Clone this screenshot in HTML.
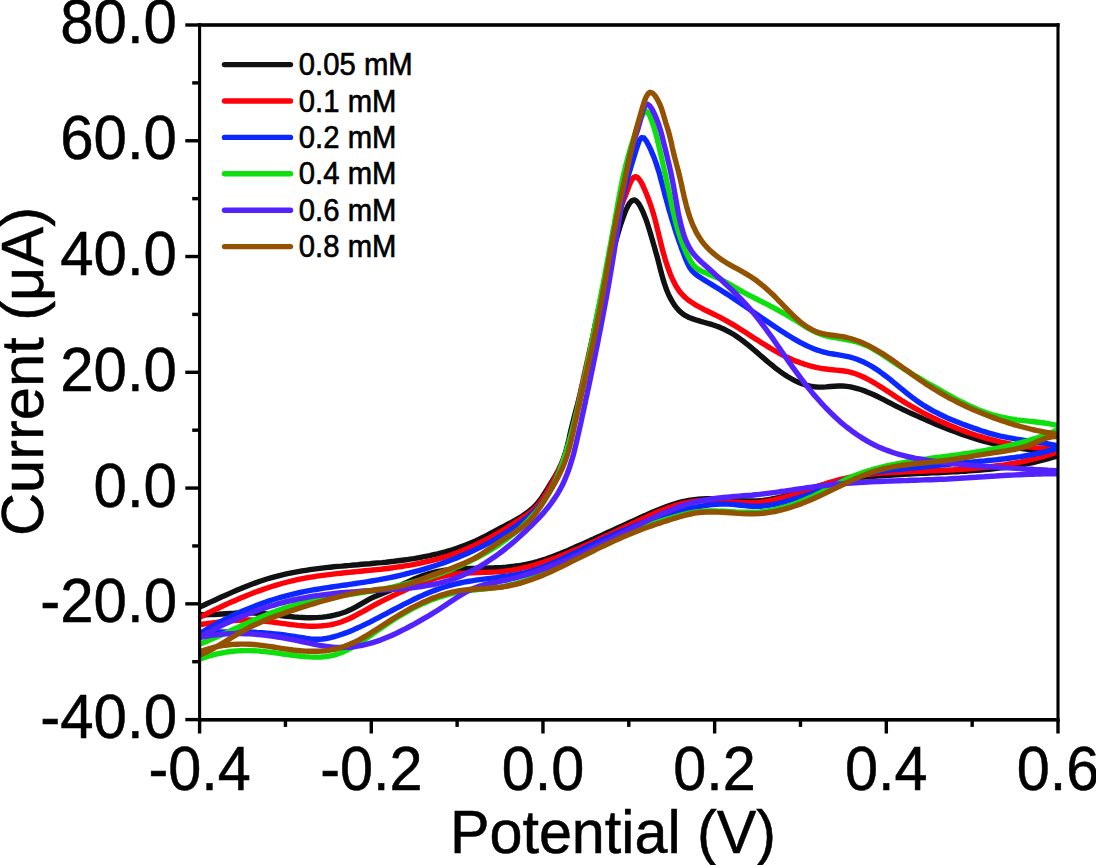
<!DOCTYPE html><html><head><meta charset="utf-8"><style>html,body{margin:0;padding:0;background:#fff;overflow:hidden}svg{display:block}</style></head><body><svg width="1096" height="865" viewBox="0 0 1096 865"><rect width="1096" height="865" fill="#fff"/><defs><clipPath id="pc"><rect x="199.6" y="25.0" width="858.4" height="694.6"/></clipPath></defs><g clip-path="url(#pc)" fill="none" stroke-linejoin="round" stroke-linecap="round"><path d="M200.1,606.8 L203.7,605.2 L207.3,603.5 L210.9,601.9 L214.6,600.2 L218.2,598.5 L221.9,596.8 L225.6,595.2 L229.2,593.6 L233.0,591.9 L236.7,590.3 L240.4,588.8 L244.1,587.2 L247.9,585.7 L251.7,584.3 L255.5,582.9 L259.3,581.5 L263.1,580.3 L266.9,579.0 L270.8,577.9 L274.6,576.8 L278.5,575.8 L282.4,574.8 L286.3,573.9 L290.2,573.1 L294.1,572.3 L298.1,571.6 L302.0,570.9 L306.0,570.3 L310.0,569.7 L313.9,569.1 L317.9,568.6 L321.9,568.1 L325.9,567.6 L329.9,567.2 L333.9,566.8 L337.9,566.4 L341.9,566.1 L345.9,565.7 L349.9,565.4 L354.0,565.0 L358.0,564.7 L362.0,564.3 L366.0,564.0 L370.0,563.7 L374.0,563.3 L378.1,562.9 L382.1,562.6 L386.1,562.2 L390.1,561.7 L394.1,561.3 L398.1,560.8 L402.1,560.3 L406.1,559.8 L410.0,559.2 L414.0,558.6 L418.0,557.9 L421.9,557.2 L425.9,556.4 L429.8,555.6 L433.7,554.7 L437.6,553.8 L441.5,552.8 L445.4,551.8 L449.3,550.7 L453.1,549.5 L456.9,548.2 L460.7,546.9 L464.5,545.5 L468.2,544.1 L471.9,542.5 L475.6,540.9 L479.2,539.2 L482.8,537.4 L486.4,535.6 L490.0,533.7 L493.5,531.8 L497.1,529.9 L500.7,528.0 L504.3,526.1 L507.9,524.2 L511.5,522.3 L515.0,520.3 L518.5,518.3 L522.0,516.2 L525.3,514.0 L528.5,511.7 L531.6,509.2 L534.5,506.5 L537.2,503.6 L539.7,500.5 L542.0,497.2 L544.3,493.7 L546.5,490.3 L548.6,486.8 L550.8,483.3 L552.9,479.9 L555.0,476.4 L557.0,472.9 L558.8,469.4 L560.6,465.8 L562.2,462.2 L563.6,458.5 L564.9,454.7 L566.0,450.8 L567.1,447.0 L568.0,443.0 L569.0,439.1 L569.8,435.1 L570.7,431.2 L571.7,427.2 L572.6,423.3 L573.6,419.4 L574.6,415.5 L575.6,411.6 L576.6,407.7 L577.7,403.9 L578.7,400.0 L579.7,396.1 L580.7,392.2 L581.7,388.3 L582.6,384.4 L583.5,380.5 L584.4,376.6 L585.3,372.7 L586.2,368.7 L587.0,364.8 L587.9,360.9 L588.7,356.9 L589.5,353.0 L590.3,349.0 L591.1,345.1 L591.9,341.1 L592.7,337.2 L593.5,333.2 L594.3,329.3 L595.1,325.3 L595.9,321.4 L596.8,317.5 L597.6,313.5 L598.4,309.6 L599.3,305.6 L600.1,301.7 L601.0,297.8 L601.9,293.8 L602.8,289.9 L603.7,286.0 L604.6,282.1 L605.6,278.2 L606.6,274.3 L607.6,270.4 L608.7,266.5 L609.8,262.6 L610.8,258.7 L611.9,254.9 L613.0,251.2 L614.1,247.4 L615.1,243.7 L616.1,240.1 L617.1,236.5 L618.2,232.7 L619.3,228.9 L620.6,224.8 L622.1,220.4 L623.8,215.6 L625.6,210.8 L627.7,206.4 L629.8,202.8 L632.1,200.5 L634.4,199.9 L636.8,201.4 L639.1,204.3 L641.3,208.4 L643.4,212.9 L645.2,217.4 L646.8,221.7 L648.1,225.8 L649.3,229.7 L650.5,233.5 L651.5,237.1 L652.6,240.8 L653.6,244.4 L654.7,248.1 L655.7,251.8 L656.8,255.5 L657.8,259.3 L658.8,263.2 L659.8,267.1 L660.8,271.1 L661.9,275.0 L663.0,278.9 L664.2,282.9 L665.5,286.7 L666.9,290.5 L668.5,294.3 L670.2,297.9 L672.2,301.4 L674.3,304.8 L676.7,308.0 L679.3,310.9 L682.3,313.5 L685.5,315.7 L689.1,317.5 L692.9,318.9 L696.8,320.2 L700.7,321.4 L704.6,322.5 L708.6,323.6 L712.4,324.7 L716.2,326.0 L720.0,327.4 L723.7,329.0 L727.2,330.8 L730.7,332.7 L734.2,334.8 L737.5,337.0 L740.8,339.4 L744.1,341.8 L747.3,344.3 L750.4,346.9 L753.5,349.5 L756.6,352.1 L759.6,354.8 L762.7,357.4 L765.8,360.1 L768.9,362.7 L772.0,365.2 L775.1,367.8 L778.3,370.2 L781.6,372.6 L784.9,374.9 L788.3,377.0 L791.8,379.0 L795.3,380.9 L798.9,382.5 L802.6,383.9 L806.3,385.1 L810.1,386.1 L814.0,386.7 L818.0,387.1 L822.1,387.1 L826.2,386.9 L830.3,386.5 L834.5,386.2 L838.6,386.0 L842.7,386.0 L846.7,386.4 L850.6,386.9 L854.5,387.8 L858.3,388.8 L862.1,390.0 L865.9,391.4 L869.6,392.9 L873.3,394.5 L877.0,396.3 L880.6,398.1 L884.2,399.9 L887.8,401.8 L891.4,403.7 L895.1,405.6 L898.7,407.4 L902.3,409.2 L905.9,410.9 L909.5,412.6 L913.2,414.3 L916.8,415.9 L920.5,417.5 L924.1,419.1 L927.8,420.7 L931.5,422.3 L935.2,423.9 L938.9,425.4 L942.6,426.9 L946.4,428.4 L950.1,429.9 L953.9,431.3 L957.7,432.8 L961.5,434.1 L965.3,435.5 L969.1,436.7 L972.9,438.0 L976.8,439.2 L980.6,440.3 L984.5,441.4 L988.4,442.4 L992.3,443.4 L996.2,444.3 L1000.1,445.1 L1004.1,445.9 L1008.0,446.6 L1012.0,447.2 L1016.0,447.8 L1020.0,448.3 L1023.9,448.8 L1027.9,449.3 L1031.9,449.7 L1035.9,450.1 L1040.0,450.4 L1044.0,450.7 L1048.0,451.0 L1052.0,451.3 L1056.0,451.5 L1060.0,451.8 L1060.0,455.0 L1056.2,456.3 L1052.3,457.5 L1048.4,458.6 L1044.5,459.7 L1040.6,460.7 L1036.7,461.6 L1032.8,462.5 L1028.9,463.3 L1024.9,464.1 L1021.0,464.9 L1017.0,465.5 L1013.1,466.2 L1009.1,466.8 L1005.1,467.4 L1001.1,467.9 L997.1,468.4 L993.2,468.8 L989.2,469.2 L985.1,469.6 L981.1,470.0 L977.1,470.3 L973.1,470.6 L969.1,470.9 L965.1,471.2 L961.0,471.4 L957.0,471.7 L953.0,471.9 L949.0,472.1 L944.9,472.3 L940.9,472.5 L936.9,472.7 L932.9,472.9 L928.8,473.0 L924.8,473.2 L920.8,473.4 L916.8,473.6 L912.8,473.8 L908.8,474.1 L904.7,474.3 L900.7,474.5 L896.7,474.8 L892.7,475.0 L888.7,475.3 L884.7,475.6 L880.7,475.9 L876.7,476.1 L872.7,476.4 L868.7,476.7 L864.6,477.0 L860.6,477.4 L856.6,477.8 L852.6,478.3 L848.7,478.9 L844.7,479.6 L840.8,480.4 L836.9,481.3 L833.0,482.2 L829.1,483.2 L825.2,484.3 L821.4,485.4 L817.5,486.5 L813.6,487.7 L809.8,488.8 L805.9,490.0 L802.1,491.2 L798.2,492.4 L794.3,493.5 L790.4,494.6 L786.5,495.7 L782.6,496.7 L778.7,497.6 L774.7,498.5 L770.8,499.2 L766.8,499.8 L762.8,500.4 L758.8,500.7 L754.8,500.9 L750.8,501.0 L746.8,501.0 L742.7,500.8 L738.6,500.6 L734.6,500.3 L730.5,500.0 L726.4,499.7 L722.4,499.4 L718.3,499.2 L714.3,498.9 L710.2,498.8 L706.2,498.8 L702.2,498.9 L698.3,499.2 L694.3,499.6 L690.4,500.1 L686.5,500.9 L682.6,501.7 L678.7,502.7 L674.9,503.8 L671.1,505.1 L667.3,506.4 L663.5,507.8 L659.7,509.2 L656.0,510.7 L652.3,512.3 L648.5,513.9 L644.8,515.6 L641.1,517.2 L637.5,518.9 L633.8,520.6 L630.1,522.3 L626.5,523.9 L622.8,525.6 L619.2,527.3 L615.5,529.0 L611.9,530.6 L608.3,532.3 L604.6,534.0 L601.0,535.6 L597.3,537.3 L593.7,539.0 L590.0,540.6 L586.4,542.3 L582.7,543.9 L579.0,545.5 L575.3,547.1 L571.6,548.8 L567.9,550.4 L564.1,551.9 L560.4,553.5 L556.6,555.0 L552.8,556.5 L549.0,557.9 L545.2,559.2 L541.4,560.4 L537.5,561.6 L533.6,562.7 L529.7,563.6 L525.8,564.5 L521.9,565.2 L518.0,565.8 L514.0,566.3 L510.1,566.7 L506.1,567.1 L502.1,567.4 L498.1,567.6 L494.1,567.8 L490.0,567.9 L486.0,568.1 L482.0,568.2 L477.9,568.3 L473.8,568.4 L469.8,568.5 L465.7,568.6 L461.7,568.8 L457.6,569.1 L453.6,569.4 L449.6,569.8 L445.6,570.3 L441.6,570.8 L437.7,571.5 L433.8,572.4 L429.9,573.3 L426.1,574.5 L422.3,575.7 L418.5,577.2 L414.8,578.7 L411.1,580.4 L407.5,582.1 L403.8,583.8 L400.1,585.6 L396.5,587.3 L392.8,589.0 L389.2,590.7 L385.5,592.2 L381.8,593.7 L378.1,595.2 L374.4,596.7 L370.8,598.4 L367.3,600.3 L363.8,602.3 L360.3,604.3 L356.8,606.4 L353.2,608.3 L349.6,610.1 L345.9,611.7 L342.2,613.0 L338.4,614.2 L334.5,615.2 L330.6,616.0 L326.6,616.6 L322.6,617.1 L318.6,617.4 L314.6,617.6 L310.5,617.7 L306.5,617.7 L302.4,617.5 L298.4,617.3 L294.4,617.0 L290.4,616.6 L286.4,616.2 L282.4,615.7 L278.4,615.3 L274.4,614.8 L270.3,614.3 L266.3,613.9 L262.3,613.5 L258.3,613.2 L254.3,613.0 L250.3,612.8 L246.3,612.8 L242.3,612.8 L238.2,612.9 L234.2,613.2 L230.2,613.4 L226.2,613.7 L222.1,614.0 L218.1,614.3 L214.1,614.5 L210.1,614.6 L206.0,614.7 L202.0,614.7 L198.0,614.5" stroke="#0f1112" stroke-width="5.4"/><path d="M200.1,617.1 L203.7,615.3 L207.2,613.5 L210.8,611.7 L214.4,609.9 L218.1,608.2 L221.7,606.5 L225.3,604.8 L229.0,603.1 L232.7,601.5 L236.4,599.9 L240.1,598.3 L243.8,596.8 L247.5,595.2 L251.3,593.8 L255.0,592.3 L258.8,590.9 L262.6,589.6 L266.4,588.3 L270.2,587.0 L274.0,585.8 L277.9,584.7 L281.7,583.5 L285.6,582.5 L289.5,581.5 L293.3,580.6 L297.2,579.7 L301.1,578.9 L305.1,578.1 L309.0,577.4 L312.9,576.8 L316.9,576.2 L320.9,575.6 L324.8,575.1 L328.8,574.6 L332.8,574.1 L336.8,573.6 L340.8,573.2 L344.8,572.8 L348.8,572.4 L352.8,572.0 L356.8,571.6 L360.8,571.2 L364.8,570.8 L368.8,570.4 L372.8,570.0 L376.9,569.6 L380.9,569.2 L384.9,568.7 L388.9,568.2 L392.9,567.7 L396.9,567.1 L400.9,566.5 L404.9,565.9 L408.8,565.3 L412.8,564.6 L416.7,563.8 L420.7,563.0 L424.6,562.2 L428.5,561.3 L432.4,560.4 L436.3,559.4 L440.1,558.3 L443.9,557.2 L447.8,556.0 L451.5,554.7 L455.3,553.4 L459.0,551.9 L462.8,550.5 L466.4,548.9 L470.1,547.3 L473.8,545.7 L477.4,544.0 L481.0,542.2 L484.6,540.4 L488.1,538.5 L491.7,536.6 L495.2,534.6 L498.7,532.6 L502.2,530.6 L505.7,528.5 L509.1,526.4 L512.5,524.2 L515.9,522.1 L519.3,519.9 L522.7,517.6 L526.0,515.4 L529.3,513.0 L532.4,510.5 L535.3,507.9 L538.0,505.0 L540.5,501.9 L542.8,498.6 L545.0,495.3 L547.1,491.8 L549.1,488.3 L551.1,484.8 L553.0,481.2 L554.9,477.7 L556.7,474.1 L558.4,470.5 L560.1,466.9 L561.7,463.2 L563.2,459.5 L564.6,455.7 L565.9,452.0 L567.2,448.2 L568.4,444.4 L569.5,440.5 L570.6,436.7 L571.6,432.8 L572.6,428.9 L573.5,425.0 L574.4,421.0 L575.3,417.1 L576.2,413.2 L577.0,409.2 L577.8,405.3 L578.6,401.3 L579.4,397.3 L580.3,393.4 L581.1,389.4 L581.9,385.5 L582.8,381.6 L583.6,377.6 L584.5,373.7 L585.3,369.8 L586.2,365.8 L587.1,361.9 L588.0,358.0 L588.8,354.1 L589.7,350.1 L590.6,346.2 L591.5,342.3 L592.4,338.4 L593.3,334.5 L594.1,330.6 L595.0,326.7 L595.9,322.8 L596.8,318.9 L597.6,315.0 L598.5,311.1 L599.3,307.2 L600.2,303.3 L601.0,299.4 L601.9,295.4 L602.7,291.5 L603.5,287.6 L604.3,283.7 L605.1,279.8 L605.9,275.8 L606.7,271.9 L607.5,267.9 L608.2,264.0 L609.0,260.0 L609.7,256.0 L610.5,252.0 L611.2,248.0 L611.9,244.0 L612.6,239.9 L613.3,235.9 L614.0,231.9 L614.8,227.9 L615.6,224.0 L616.5,220.2 L617.5,216.5 L618.7,213.0 L619.9,209.5 L621.3,206.0 L622.8,202.3 L624.3,198.4 L626.0,194.2 L627.7,189.5 L629.4,184.8 L631.3,180.7 L633.3,177.7 L635.4,176.6 L637.6,177.5 L639.9,180.2 L642.2,184.2 L644.3,188.8 L646.3,193.5 L648.1,198.0 L649.6,202.1 L651.0,206.0 L652.2,209.8 L653.3,213.4 L654.3,217.0 L655.3,220.6 L656.2,224.2 L657.1,228.0 L658.1,231.9 L659.0,235.7 L660.0,239.6 L660.9,243.5 L661.9,247.4 L662.9,251.3 L664.0,255.1 L665.1,259.0 L666.3,262.8 L667.6,266.7 L669.0,270.5 L670.4,274.3 L672.0,278.1 L673.8,281.8 L675.7,285.5 L677.8,288.9 L680.1,292.1 L682.7,295.0 L685.5,297.7 L688.5,300.2 L691.7,302.4 L695.0,304.6 L698.5,306.5 L702.0,308.4 L705.6,310.3 L709.2,312.0 L712.9,313.8 L716.6,315.6 L720.2,317.4 L723.8,319.3 L727.4,321.3 L730.9,323.3 L734.4,325.4 L737.8,327.5 L741.2,329.7 L744.6,331.8 L748.0,334.0 L751.4,336.2 L754.8,338.4 L758.2,340.6 L761.5,342.7 L764.9,344.8 L768.3,346.9 L771.8,349.0 L775.2,351.0 L778.7,352.9 L782.2,354.8 L785.8,356.6 L789.4,358.3 L793.0,359.9 L796.7,361.4 L800.5,362.8 L804.3,364.1 L808.1,365.3 L812.0,366.3 L816.0,367.3 L820.0,368.1 L824.0,368.8 L828.0,369.3 L832.1,369.7 L836.1,370.1 L840.2,370.5 L844.1,371.0 L848.0,371.7 L851.9,372.6 L855.6,373.8 L859.3,375.2 L862.9,376.8 L866.5,378.5 L870.0,380.4 L873.5,382.4 L877.0,384.5 L880.4,386.6 L883.8,388.8 L887.2,391.1 L890.6,393.3 L894.0,395.6 L897.4,397.8 L900.8,400.0 L904.3,402.1 L907.7,404.2 L911.2,406.2 L914.7,408.2 L918.2,410.1 L921.7,412.0 L925.3,413.9 L928.8,415.7 L932.4,417.5 L936.0,419.2 L939.7,420.9 L943.3,422.6 L947.0,424.2 L950.7,425.8 L954.4,427.3 L958.1,428.8 L961.9,430.2 L965.6,431.6 L969.4,433.0 L973.2,434.2 L977.0,435.5 L980.9,436.7 L984.7,437.8 L988.6,438.9 L992.4,439.9 L996.3,440.9 L1000.2,441.9 L1004.2,442.7 L1008.1,443.5 L1012.0,444.3 L1016.0,445.0 L1019.9,445.6 L1023.9,446.2 L1027.9,446.7 L1031.9,447.2 L1035.9,447.6 L1039.9,447.9 L1043.9,448.2 L1047.9,448.4 L1052.0,448.5 L1056.0,448.6 L1060.1,448.6 L1060.0,451.0 L1056.2,452.4 L1052.4,453.7 L1048.5,454.9 L1044.6,456.1 L1040.7,457.2 L1036.9,458.2 L1033.0,459.2 L1029.1,460.2 L1025.1,461.0 L1021.2,461.9 L1017.3,462.6 L1013.3,463.4 L1009.4,464.0 L1005.5,464.7 L1001.5,465.3 L997.5,465.8 L993.6,466.3 L989.6,466.8 L985.6,467.2 L981.6,467.6 L977.6,468.0 L973.6,468.4 L969.6,468.7 L965.6,469.0 L961.6,469.3 L957.6,469.5 L953.6,469.8 L949.5,470.0 L945.5,470.2 L941.5,470.4 L937.5,470.5 L933.4,470.7 L929.4,470.9 L925.4,471.0 L921.3,471.2 L917.3,471.3 L913.3,471.5 L909.2,471.6 L905.2,471.8 L901.1,472.0 L897.1,472.2 L893.1,472.4 L889.1,472.6 L885.0,472.8 L881.0,473.1 L877.0,473.5 L873.0,473.8 L869.0,474.3 L865.0,474.8 L861.1,475.3 L857.1,475.9 L853.2,476.6 L849.3,477.4 L845.4,478.3 L841.5,479.2 L837.6,480.2 L833.8,481.3 L829.9,482.4 L826.1,483.6 L822.3,484.8 L818.4,486.1 L814.6,487.4 L810.8,488.6 L807.0,489.9 L803.1,491.2 L799.3,492.5 L795.5,493.7 L791.6,495.0 L787.8,496.2 L783.9,497.3 L780.0,498.3 L776.1,499.3 L772.2,500.2 L768.3,501.0 L764.3,501.6 L760.4,502.1 L756.4,502.4 L752.4,502.6 L748.4,502.6 L744.3,502.6 L740.3,502.4 L736.2,502.1 L732.1,501.9 L728.0,501.5 L724.0,501.2 L719.9,500.9 L715.9,500.7 L711.8,500.5 L707.8,500.5 L703.8,500.5 L699.8,500.7 L695.9,501.0 L691.9,501.6 L688.0,502.3 L684.2,503.1 L680.3,504.0 L676.5,505.1 L672.7,506.3 L668.9,507.6 L665.1,509.0 L661.4,510.5 L657.6,512.0 L653.9,513.6 L650.2,515.3 L646.5,517.0 L642.8,518.7 L639.1,520.4 L635.5,522.1 L631.8,523.8 L628.2,525.5 L624.5,527.3 L620.9,529.0 L617.2,530.7 L613.6,532.4 L610.0,534.1 L606.3,535.8 L602.7,537.5 L599.0,539.2 L595.4,540.9 L591.8,542.5 L588.1,544.2 L584.4,545.8 L580.8,547.4 L577.1,549.1 L573.4,550.6 L569.7,552.2 L566.0,553.7 L562.2,555.2 L558.5,556.7 L554.7,558.2 L550.9,559.6 L547.1,560.9 L543.3,562.2 L539.5,563.4 L535.7,564.6 L531.8,565.7 L528.0,566.8 L524.1,567.7 L520.2,568.6 L516.2,569.4 L512.3,570.1 L508.3,570.7 L504.4,571.2 L500.4,571.6 L496.3,571.9 L492.3,572.1 L488.3,572.3 L484.2,572.4 L480.2,572.5 L476.1,572.6 L472.1,572.8 L468.0,573.0 L464.0,573.2 L460.0,573.5 L456.0,573.9 L452.0,574.5 L448.1,575.2 L444.2,576.0 L440.3,577.0 L436.4,578.0 L432.6,579.2 L428.8,580.5 L425.0,581.8 L421.2,583.3 L417.5,584.8 L413.7,586.3 L410.0,587.9 L406.3,589.6 L402.7,591.2 L399.0,592.9 L395.4,594.6 L391.7,596.3 L388.1,598.1 L384.5,599.9 L381.0,601.7 L377.4,603.5 L373.8,605.4 L370.3,607.4 L366.8,609.3 L363.3,611.3 L359.7,613.2 L356.2,615.2 L352.6,617.0 L349.0,618.7 L345.4,620.3 L341.7,621.7 L337.9,623.0 L334.1,624.0 L330.2,624.8 L326.3,625.4 L322.3,625.8 L318.3,626.1 L314.2,626.2 L310.2,626.2 L306.1,626.0 L302.0,625.7 L298.0,625.4 L293.9,624.9 L289.9,624.5 L285.9,623.9 L281.9,623.4 L277.9,622.8 L273.9,622.3 L269.9,621.7 L265.9,621.3 L262.0,620.8 L258.0,620.5 L254.0,620.2 L250.0,620.0 L246.0,619.9 L242.0,620.0 L238.0,620.2 L234.0,620.5 L230.0,620.9 L226.0,621.3 L222.0,621.8 L218.0,622.3 L214.0,622.8 L210.0,623.3 L206.0,623.8 L202.0,624.2 L198.0,624.6" stroke="#ff000a" stroke-width="5.4"/><path d="M200.1,633.5 L203.6,631.4 L207.0,629.3 L210.5,627.3 L214.0,625.3 L217.5,623.4 L221.1,621.5 L224.6,619.6 L228.2,617.8 L231.8,616.0 L235.5,614.3 L239.1,612.6 L242.8,611.0 L246.5,609.4 L250.2,607.9 L254.0,606.4 L257.7,605.0 L261.5,603.6 L265.3,602.2 L269.1,600.9 L272.9,599.7 L276.7,598.5 L280.6,597.4 L284.5,596.3 L288.3,595.3 L292.2,594.3 L296.1,593.4 L300.0,592.5 L304.0,591.7 L307.9,590.9 L311.8,590.2 L315.8,589.5 L319.7,588.8 L323.7,588.2 L327.7,587.6 L331.7,587.0 L335.6,586.4 L339.6,585.8 L343.6,585.2 L347.6,584.7 L351.6,584.1 L355.6,583.5 L359.5,582.9 L363.5,582.3 L367.5,581.7 L371.5,581.0 L375.4,580.4 L379.4,579.7 L383.4,578.9 L387.3,578.1 L391.3,577.3 L395.2,576.5 L399.2,575.6 L403.1,574.7 L407.0,573.7 L410.9,572.7 L414.8,571.7 L418.7,570.7 L422.5,569.6 L426.4,568.4 L430.2,567.2 L434.1,566.0 L437.9,564.8 L441.7,563.5 L445.4,562.1 L449.2,560.8 L452.9,559.3 L456.7,557.9 L460.4,556.3 L464.1,554.8 L467.7,553.2 L471.4,551.5 L475.0,549.8 L478.6,548.1 L482.2,546.3 L485.7,544.5 L489.3,542.6 L492.8,540.6 L496.3,538.6 L499.7,536.6 L503.2,534.5 L506.6,532.4 L509.9,530.2 L513.3,527.9 L516.6,525.6 L519.9,523.2 L523.1,520.8 L526.3,518.3 L529.5,515.8 L532.5,513.1 L535.4,510.3 L538.2,507.4 L540.8,504.3 L543.2,501.1 L545.5,497.8 L547.6,494.4 L549.7,491.0 L551.7,487.5 L553.5,484.0 L555.3,480.4 L556.9,476.7 L558.5,473.1 L560.0,469.4 L561.5,465.7 L562.9,461.9 L564.2,458.1 L565.4,454.3 L566.6,450.4 L567.8,446.6 L568.9,442.7 L570.0,438.8 L571.0,434.9 L572.1,431.0 L573.1,427.1 L574.1,423.2 L575.0,419.3 L576.0,415.4 L576.9,411.5 L577.9,407.6 L578.8,403.7 L579.7,399.7 L580.6,395.8 L581.5,391.9 L582.3,388.0 L583.2,384.0 L584.1,380.1 L584.9,376.2 L585.7,372.3 L586.6,368.3 L587.4,364.4 L588.2,360.5 L589.1,356.5 L589.9,352.6 L590.7,348.7 L591.5,344.7 L592.3,340.8 L593.1,336.9 L593.9,332.9 L594.8,329.0 L595.6,325.1 L596.4,321.1 L597.2,317.2 L598.1,313.3 L598.9,309.4 L599.7,305.4 L600.6,301.5 L601.4,297.6 L602.3,293.7 L603.2,289.7 L604.1,285.8 L604.9,281.9 L605.8,278.0 L606.7,274.0 L607.6,270.1 L608.5,266.2 L609.4,262.3 L610.3,258.4 L611.2,254.4 L612.0,250.5 L612.9,246.6 L613.8,242.7 L614.6,238.8 L615.4,234.8 L616.3,230.9 L617.1,227.0 L617.9,223.1 L618.7,219.1 L619.4,215.2 L620.2,211.3 L620.9,207.3 L621.7,203.4 L622.4,199.5 L623.2,195.5 L624.1,191.6 L625.0,187.6 L626.0,183.6 L627.1,179.7 L628.2,175.8 L629.4,171.9 L630.6,168.0 L631.7,164.3 L632.8,160.7 L633.9,157.1 L635.0,153.4 L636.3,149.4 L637.8,144.8 L639.5,140.4 L641.6,137.6 L644.0,138.0 L646.4,141.2 L648.7,145.6 L650.8,149.8 L652.4,153.6 L653.9,157.1 L655.2,160.6 L656.4,164.1 L657.6,167.8 L658.8,171.6 L659.9,175.5 L660.9,179.5 L662.0,183.4 L663.0,187.4 L664.1,191.4 L665.1,195.4 L666.2,199.3 L667.3,203.2 L668.3,207.1 L669.4,211.0 L670.6,214.8 L671.7,218.7 L672.9,222.5 L674.1,226.3 L675.3,230.1 L676.5,233.9 L677.8,237.7 L679.1,241.5 L680.5,245.3 L681.8,249.0 L683.3,252.8 L684.7,256.6 L686.3,260.4 L687.9,264.1 L689.8,267.7 L692.1,270.9 L694.9,273.6 L698.1,276.0 L701.5,278.3 L704.9,280.4 L708.3,282.5 L711.8,284.6 L715.2,286.7 L718.6,288.8 L722.0,291.0 L725.4,293.1 L728.8,295.3 L732.1,297.5 L735.5,299.8 L738.8,302.0 L742.1,304.3 L745.5,306.5 L748.8,308.8 L752.1,311.1 L755.4,313.4 L758.7,315.7 L762.0,317.9 L765.3,320.2 L768.7,322.5 L772.0,324.7 L775.3,327.0 L778.7,329.2 L782.1,331.4 L785.4,333.6 L788.8,335.7 L792.2,337.8 L795.7,339.8 L799.2,341.8 L802.7,343.7 L806.3,345.5 L809.9,347.1 L813.6,348.7 L817.4,350.1 L821.2,351.3 L825.1,352.4 L829.1,353.3 L833.1,354.0 L837.2,354.7 L841.3,355.4 L845.3,356.1 L849.3,356.9 L853.2,358.0 L857.0,359.2 L860.6,360.7 L864.2,362.3 L867.7,364.1 L871.2,366.0 L874.5,368.1 L877.9,370.3 L881.1,372.6 L884.3,375.0 L887.5,377.4 L890.7,379.9 L893.8,382.5 L897.0,385.1 L900.1,387.7 L903.2,390.2 L906.4,392.8 L909.6,395.3 L912.8,397.8 L916.0,400.2 L919.3,402.5 L922.7,404.8 L926.1,406.9 L929.5,408.9 L933.0,410.9 L936.6,412.7 L940.2,414.5 L943.8,416.2 L947.4,417.9 L951.1,419.5 L954.8,421.0 L958.6,422.5 L962.3,424.0 L966.1,425.4 L969.9,426.7 L973.7,428.1 L977.5,429.4 L981.3,430.7 L985.1,431.9 L988.9,433.1 L992.8,434.2 L996.6,435.2 L1000.5,436.1 L1004.5,436.9 L1008.4,437.7 L1012.4,438.4 L1016.3,439.1 L1020.3,439.7 L1024.3,440.3 L1028.3,440.9 L1032.3,441.4 L1036.3,442.0 L1040.2,442.6 L1044.2,443.2 L1048.2,443.9 L1052.1,444.6 L1056.1,445.3 L1060.0,446.1 L1060.0,447.4 L1056.1,448.6 L1052.2,449.8 L1048.3,450.9 L1044.4,451.9 L1040.5,452.8 L1036.5,453.7 L1032.6,454.5 L1028.6,455.2 L1024.7,455.9 L1020.7,456.6 L1016.7,457.2 L1012.7,457.8 L1008.7,458.3 L1004.7,458.8 L1000.7,459.2 L996.7,459.7 L992.7,460.1 L988.7,460.5 L984.6,460.9 L980.6,461.2 L976.6,461.6 L972.6,462.0 L968.6,462.3 L964.6,462.7 L960.6,463.1 L956.6,463.5 L952.6,463.9 L948.6,464.3 L944.6,464.7 L940.6,465.1 L936.6,465.5 L932.6,466.0 L928.6,466.4 L924.6,466.8 L920.6,467.2 L916.5,467.6 L912.5,468.0 L908.5,468.4 L904.5,468.8 L900.4,469.2 L896.4,469.5 L892.3,469.9 L888.3,470.4 L884.2,470.8 L880.2,471.3 L876.2,471.9 L872.2,472.5 L868.3,473.2 L864.3,474.0 L860.4,474.9 L856.5,475.9 L852.7,477.0 L848.9,478.3 L845.1,479.7 L841.4,481.2 L837.7,482.8 L834.0,484.4 L830.3,486.1 L826.6,487.7 L822.9,489.3 L819.2,490.9 L815.4,492.3 L811.6,493.6 L807.8,494.9 L804.0,496.1 L800.1,497.2 L796.3,498.4 L792.4,499.5 L788.4,500.7 L784.5,501.8 L780.6,502.8 L776.6,503.8 L772.7,504.6 L768.7,505.3 L764.7,505.8 L760.7,506.2 L756.7,506.3 L752.7,506.3 L748.7,506.0 L744.7,505.6 L740.7,505.2 L736.6,504.8 L732.6,504.4 L728.6,504.1 L724.5,504.0 L720.5,504.1 L716.5,504.3 L712.4,504.6 L708.4,505.1 L704.4,505.7 L700.4,506.3 L696.4,507.1 L692.5,507.9 L688.5,508.7 L684.6,509.6 L680.7,510.6 L676.8,511.6 L672.9,512.7 L669.1,513.8 L665.2,515.0 L661.4,516.2 L657.6,517.5 L653.8,518.8 L650.0,520.1 L646.2,521.5 L642.4,522.9 L638.7,524.3 L634.9,525.8 L631.2,527.3 L627.5,528.9 L623.7,530.4 L620.0,532.0 L616.3,533.7 L612.6,535.3 L609.0,537.0 L605.3,538.6 L601.6,540.3 L597.9,542.0 L594.2,543.7 L590.6,545.5 L586.9,547.2 L583.3,549.0 L579.6,550.7 L575.9,552.4 L572.3,554.2 L568.6,555.9 L565.0,557.7 L561.3,559.4 L557.6,561.1 L553.9,562.7 L550.2,564.3 L546.5,565.8 L542.8,567.3 L539.0,568.7 L535.2,569.9 L531.4,571.1 L527.6,572.2 L523.7,573.1 L519.8,573.9 L515.8,574.7 L511.9,575.3 L507.9,576.0 L503.9,576.5 L499.9,577.0 L495.9,577.6 L491.9,578.1 L487.9,578.6 L483.8,579.1 L479.8,579.6 L475.8,580.2 L471.8,580.8 L467.8,581.5 L463.9,582.2 L459.9,583.0 L456.0,583.8 L452.1,584.8 L448.2,585.9 L444.4,587.0 L440.6,588.3 L436.8,589.6 L433.1,591.0 L429.3,592.5 L425.6,594.0 L422.0,595.6 L418.3,597.3 L414.6,599.0 L411.0,600.8 L407.4,602.6 L403.7,604.4 L400.1,606.3 L396.5,608.1 L392.9,610.0 L389.4,611.9 L385.8,613.8 L382.2,615.7 L378.6,617.6 L375.0,619.4 L371.4,621.3 L367.8,623.1 L364.1,624.9 L360.5,626.6 L356.8,628.3 L353.2,629.9 L349.5,631.4 L345.7,632.9 L341.9,634.2 L338.1,635.5 L334.3,636.6 L330.4,637.7 L326.4,638.5 L322.5,639.0 L318.5,639.3 L314.5,639.2 L310.5,638.9 L306.5,638.4 L302.5,637.7 L298.5,637.1 L294.5,636.5 L290.5,635.9 L286.5,635.3 L282.5,634.8 L278.5,634.3 L274.4,633.9 L270.4,633.5 L266.4,633.1 L262.4,632.8 L258.3,632.6 L254.3,632.3 L250.3,632.1 L246.3,632.0 L242.2,631.9 L238.2,631.8 L234.2,631.8 L230.2,631.8 L226.1,631.9 L222.1,632.0 L218.1,632.2 L214.1,632.5 L210.0,632.7 L206.0,633.1 L202.0,633.4 L198.0,633.9" stroke="#0a28ff" stroke-width="5.4"/><path d="M200.1,644.0 L203.8,642.5 L207.5,641.0 L211.1,639.4 L214.8,637.8 L218.4,636.2 L222.1,634.5 L225.8,632.9 L229.4,631.2 L233.1,629.5 L236.7,627.9 L240.4,626.2 L244.1,624.5 L247.8,622.9 L251.5,621.2 L255.1,619.6 L258.8,618.0 L262.6,616.4 L266.3,614.9 L270.0,613.4 L273.8,612.0 L277.5,610.6 L281.3,609.2 L285.1,607.9 L288.9,606.7 L292.7,605.5 L296.6,604.4 L300.4,603.4 L304.3,602.4 L308.2,601.5 L312.1,600.7 L316.0,599.9 L320.0,599.1 L323.9,598.4 L327.9,597.7 L331.8,597.1 L335.8,596.4 L339.8,595.8 L343.8,595.2 L347.7,594.6 L351.7,594.1 L355.7,593.5 L359.7,592.9 L363.7,592.3 L367.7,591.6 L371.6,591.0 L375.6,590.3 L379.5,589.6 L383.5,588.8 L387.4,588.1 L391.4,587.3 L395.3,586.4 L399.2,585.5 L403.1,584.6 L407.0,583.6 L410.9,582.6 L414.8,581.6 L418.6,580.5 L422.5,579.4 L426.3,578.3 L430.1,577.1 L433.9,575.8 L437.7,574.5 L441.5,573.2 L445.2,571.8 L448.9,570.4 L452.6,568.9 L456.3,567.3 L460.0,565.8 L463.7,564.1 L467.3,562.4 L470.9,560.7 L474.5,558.9 L478.1,557.0 L481.6,555.1 L485.1,553.2 L488.6,551.1 L492.1,549.1 L495.5,546.9 L498.9,544.7 L502.2,542.4 L505.5,540.1 L508.7,537.7 L511.9,535.2 L515.0,532.7 L518.1,530.1 L521.1,527.4 L524.0,524.6 L526.9,521.8 L529.7,518.9 L532.4,515.9 L535.1,512.9 L537.6,509.8 L540.1,506.6 L542.4,503.4 L544.7,500.1 L546.8,496.7 L548.9,493.3 L550.8,489.8 L552.7,486.3 L554.5,482.7 L556.1,479.1 L557.7,475.4 L559.3,471.7 L560.7,468.0 L562.1,464.2 L563.4,460.5 L564.7,456.6 L565.9,452.8 L567.1,448.9 L568.2,445.1 L569.3,441.2 L570.4,437.3 L571.4,433.4 L572.5,429.5 L573.4,425.5 L574.4,421.6 L575.4,417.7 L576.3,413.8 L577.3,409.9 L578.2,406.0 L579.1,402.1 L580.0,398.2 L580.9,394.2 L581.8,390.3 L582.6,386.4 L583.5,382.5 L584.3,378.6 L585.2,374.7 L586.0,370.7 L586.8,366.8 L587.6,362.9 L588.4,359.0 L589.2,355.0 L590.0,351.1 L590.8,347.2 L591.6,343.3 L592.4,339.3 L593.1,335.4 L593.9,331.5 L594.7,327.5 L595.5,323.6 L596.2,319.7 L597.0,315.7 L597.7,311.8 L598.5,307.9 L599.3,303.9 L600.0,300.0 L600.8,296.0 L601.5,292.1 L602.3,288.1 L603.1,284.2 L603.8,280.2 L604.6,276.3 L605.3,272.3 L606.1,268.4 L606.8,264.4 L607.5,260.5 L608.3,256.5 L609.0,252.6 L609.7,248.6 L610.5,244.7 L611.2,240.7 L611.9,236.8 L612.6,232.8 L613.3,228.9 L614.1,225.0 L614.8,221.0 L615.5,217.1 L616.2,213.2 L616.9,209.2 L617.6,205.3 L618.3,201.3 L619.0,197.4 L619.7,193.5 L620.5,189.5 L621.3,185.6 L622.1,181.6 L622.9,177.7 L623.8,173.7 L624.8,169.7 L625.7,165.7 L626.8,161.8 L627.8,157.8 L628.9,153.9 L630.0,150.1 L631.1,146.3 L632.3,142.6 L633.4,139.0 L634.5,135.5 L635.7,131.9 L637.0,128.1 L638.5,124.0 L640.3,119.4 L642.4,115.0 L644.5,111.9 L646.7,111.4 L648.9,113.9 L650.8,118.2 L652.5,122.8 L653.9,127.1 L655.1,131.1 L656.1,134.8 L657.0,138.4 L657.9,142.0 L658.8,145.7 L659.6,149.4 L660.5,153.2 L661.4,157.1 L662.3,161.0 L663.1,164.9 L664.0,168.9 L664.9,172.9 L665.8,176.9 L666.6,180.9 L667.5,185.0 L668.3,189.0 L669.2,193.0 L670.1,197.0 L670.9,201.0 L671.8,205.0 L672.6,209.0 L673.5,212.9 L674.5,216.8 L675.4,220.7 L676.4,224.6 L677.5,228.4 L678.6,232.3 L679.8,236.0 L681.1,239.8 L682.4,243.5 L683.9,247.2 L685.5,250.9 L687.1,254.5 L689.0,258.1 L690.9,261.6 L693.2,264.9 L695.9,267.7 L699.2,269.9 L702.8,271.8 L706.5,273.3 L710.3,274.9 L714.1,276.4 L717.8,277.9 L721.4,279.7 L725.0,281.6 L728.5,283.5 L731.9,285.5 L735.4,287.6 L738.8,289.6 L742.3,291.6 L745.8,293.5 L749.3,295.4 L752.9,297.2 L756.5,299.0 L760.1,300.8 L763.7,302.6 L767.3,304.4 L770.9,306.3 L774.4,308.2 L777.9,310.1 L781.4,312.1 L784.9,314.0 L788.4,316.1 L791.9,318.1 L795.3,320.2 L798.7,322.3 L802.1,324.5 L805.5,326.6 L808.9,328.7 L812.4,330.6 L816.0,332.3 L819.6,333.8 L823.4,335.1 L827.2,336.1 L831.1,337.0 L835.1,337.7 L839.1,338.4 L843.1,339.1 L847.1,339.8 L851.1,340.6 L855.0,341.5 L858.8,342.6 L862.6,343.9 L866.2,345.4 L869.8,347.2 L873.4,349.1 L876.8,351.1 L880.3,353.3 L883.6,355.5 L887.0,357.8 L890.4,360.0 L893.7,362.3 L897.1,364.5 L900.5,366.7 L903.9,368.9 L907.3,371.0 L910.7,373.1 L914.1,375.2 L917.5,377.2 L921.0,379.2 L924.4,381.3 L927.9,383.3 L931.3,385.2 L934.8,387.2 L938.3,389.2 L941.8,391.2 L945.3,393.2 L948.8,395.1 L952.4,397.1 L955.9,399.0 L959.5,400.9 L963.1,402.7 L966.7,404.5 L970.3,406.2 L974.0,407.8 L977.7,409.4 L981.4,410.9 L985.1,412.3 L988.9,413.6 L992.7,414.8 L996.6,415.9 L1000.4,416.9 L1004.3,417.7 L1008.3,418.5 L1012.3,419.1 L1016.3,419.7 L1020.3,420.2 L1024.3,420.6 L1028.3,421.1 L1032.3,421.5 L1036.3,422.0 L1040.3,422.5 L1044.3,423.0 L1048.3,423.6 L1052.2,424.3 L1056.1,425.1 L1060.0,426.0 L1060.0,428.9 L1056.3,430.5 L1052.6,432.1 L1048.8,433.6 L1045.1,435.0 L1041.3,436.4 L1037.5,437.7 L1033.7,438.9 L1029.8,440.1 L1026.0,441.3 L1022.1,442.4 L1018.3,443.4 L1014.4,444.4 L1010.5,445.3 L1006.6,446.2 L1002.7,447.1 L998.7,447.9 L994.8,448.7 L990.9,449.5 L986.9,450.2 L982.9,450.9 L979.0,451.5 L975.0,452.2 L971.0,452.8 L967.1,453.4 L963.1,454.0 L959.1,454.6 L955.1,455.1 L951.1,455.7 L947.1,456.2 L943.1,456.7 L939.1,457.3 L935.1,457.8 L931.2,458.3 L927.2,458.9 L923.2,459.4 L919.2,460.0 L915.2,460.6 L911.3,461.2 L907.3,461.9 L903.3,462.6 L899.4,463.3 L895.4,464.1 L891.5,464.9 L887.6,465.7 L883.7,466.6 L879.8,467.6 L875.9,468.6 L872.0,469.7 L868.2,470.9 L864.3,472.1 L860.5,473.5 L856.8,474.9 L853.0,476.3 L849.4,477.9 L845.7,479.5 L842.1,481.3 L838.6,483.1 L835.0,484.9 L831.5,486.7 L828.0,488.6 L824.4,490.5 L820.8,492.3 L817.2,494.1 L813.6,495.9 L809.9,497.6 L806.2,499.2 L802.5,500.8 L798.7,502.3 L794.9,503.7 L791.1,505.0 L787.2,506.3 L783.4,507.4 L779.5,508.4 L775.6,509.4 L771.6,510.2 L767.7,510.9 L763.7,511.4 L759.7,511.9 L755.7,512.1 L751.7,512.3 L747.7,512.3 L743.7,512.3 L739.7,512.1 L735.6,512.0 L731.6,511.7 L727.6,511.5 L723.6,511.3 L719.5,511.1 L715.5,511.0 L711.5,511.0 L707.5,511.0 L703.6,511.2 L699.6,511.6 L695.7,512.0 L691.7,512.7 L687.8,513.5 L683.9,514.4 L680.0,515.4 L676.1,516.4 L672.3,517.5 L668.4,518.7 L664.5,519.9 L660.7,521.1 L656.8,522.3 L653.0,523.6 L649.2,524.9 L645.4,526.2 L641.6,527.6 L637.8,529.0 L634.1,530.5 L630.4,532.0 L626.7,533.6 L623.0,535.2 L619.4,536.9 L615.7,538.6 L612.1,540.3 L608.5,542.0 L604.9,543.7 L601.3,545.5 L597.7,547.3 L594.1,549.1 L590.5,550.9 L586.9,552.7 L583.3,554.5 L579.7,556.3 L576.1,558.1 L572.5,559.8 L568.9,561.6 L565.2,563.3 L561.6,565.0 L557.9,566.8 L554.3,568.4 L550.6,570.1 L546.9,571.7 L543.3,573.4 L539.6,574.9 L535.9,576.5 L532.2,578.0 L528.4,579.5 L524.7,580.8 L520.9,582.1 L517.1,583.2 L513.2,584.3 L509.3,585.2 L505.4,586.1 L501.5,586.8 L497.5,587.4 L493.5,587.9 L489.5,588.4 L485.5,588.8 L481.5,589.2 L477.4,589.6 L473.4,590.0 L469.4,590.4 L465.4,590.9 L461.5,591.6 L457.5,592.3 L453.6,593.1 L449.7,594.1 L445.9,595.1 L442.0,596.3 L438.2,597.5 L434.5,598.9 L430.7,600.3 L427.0,601.8 L423.3,603.4 L419.7,605.1 L416.1,606.9 L412.5,608.7 L408.9,610.6 L405.4,612.6 L401.9,614.6 L398.5,616.7 L395.0,618.8 L391.6,621.0 L388.2,623.2 L384.9,625.5 L381.6,627.8 L378.3,630.1 L375.0,632.4 L371.7,634.7 L368.4,637.0 L365.0,639.3 L361.7,641.5 L358.3,643.7 L354.9,645.8 L351.4,647.8 L347.8,649.7 L344.2,651.4 L340.5,653.0 L336.8,654.3 L333.0,655.3 L329.1,656.1 L325.2,656.6 L321.2,657.0 L317.2,657.1 L313.2,657.1 L309.2,656.9 L305.1,656.6 L301.1,656.2 L297.1,655.8 L293.1,655.3 L289.1,654.8 L285.1,654.2 L281.1,653.7 L277.1,653.1 L273.1,652.6 L269.1,652.1 L265.1,651.6 L261.1,651.3 L257.1,650.9 L253.2,650.7 L249.1,650.6 L245.1,650.6 L241.1,650.7 L237.1,650.9 L233.1,651.3 L229.0,651.7 L225.0,652.3 L221.1,653.1 L217.1,653.9 L213.2,654.9 L209.3,656.0 L205.5,657.2 L201.7,658.5 L198.0,660.0" stroke="#0de00d" stroke-width="5.4"/><path d="M200.2,636.8 L203.7,634.9 L207.2,633.0 L210.7,631.1 L214.3,629.2 L217.8,627.4 L221.5,625.6 L225.1,623.9 L228.7,622.2 L232.4,620.5 L236.1,618.9 L239.8,617.3 L243.5,615.8 L247.3,614.3 L251.1,612.8 L254.9,611.4 L258.7,610.0 L262.5,608.7 L266.3,607.4 L270.1,606.2 L274.0,605.1 L277.9,603.9 L281.7,602.9 L285.6,601.9 L289.5,600.9 L293.4,600.0 L297.3,599.1 L301.3,598.3 L305.2,597.6 L309.1,596.9 L313.1,596.2 L317.0,595.6 L321.0,595.1 L324.9,594.6 L328.9,594.1 L332.9,593.6 L336.9,593.2 L340.8,592.8 L344.8,592.5 L348.8,592.2 L352.9,591.9 L356.9,591.6 L360.9,591.3 L364.9,591.0 L369.0,590.8 L373.0,590.6 L377.1,590.3 L381.1,590.1 L385.2,589.9 L389.3,589.6 L393.3,589.4 L397.4,589.1 L401.4,588.8 L405.5,588.4 L409.5,588.0 L413.5,587.6 L417.5,587.1 L421.5,586.5 L425.4,585.9 L429.4,585.2 L433.3,584.5 L437.2,583.6 L441.0,582.7 L444.9,581.6 L448.7,580.5 L452.4,579.3 L456.1,577.9 L459.8,576.4 L463.5,574.9 L467.1,573.2 L470.7,571.4 L474.2,569.6 L477.7,567.7 L481.2,565.6 L484.6,563.5 L488.0,561.3 L491.3,559.1 L494.7,556.8 L498.0,554.4 L501.2,552.0 L504.4,549.5 L507.6,546.9 L510.8,544.3 L513.9,541.7 L517.0,539.0 L520.0,536.3 L523.0,533.5 L526.0,530.7 L529.0,527.9 L531.9,525.1 L534.7,522.2 L537.5,519.3 L540.3,516.4 L543.0,513.4 L545.6,510.3 L548.1,507.2 L550.5,504.1 L552.8,500.9 L555.1,497.7 L557.2,494.3 L559.2,490.9 L561.1,487.5 L562.9,484.0 L564.5,480.4 L566.0,476.7 L567.5,473.0 L568.9,469.3 L570.1,465.5 L571.3,461.6 L572.5,457.8 L573.6,453.9 L574.6,449.9 L575.6,446.0 L576.5,442.0 L577.4,438.0 L578.3,434.1 L579.2,430.1 L580.1,426.1 L581.0,422.1 L581.8,418.1 L582.7,414.2 L583.6,410.2 L584.4,406.2 L585.3,402.3 L586.1,398.3 L587.0,394.4 L587.8,390.4 L588.7,386.5 L589.5,382.5 L590.3,378.6 L591.1,374.6 L592.0,370.7 L592.8,366.8 L593.6,362.8 L594.4,358.9 L595.2,355.0 L596.0,351.0 L596.8,347.1 L597.6,343.2 L598.4,339.2 L599.1,335.3 L599.9,331.4 L600.7,327.5 L601.4,323.5 L602.2,319.6 L602.9,315.7 L603.7,311.8 L604.4,307.8 L605.1,303.9 L605.9,300.0 L606.6,296.0 L607.3,292.1 L608.0,288.2 L608.7,284.2 L609.4,280.3 L610.0,276.3 L610.7,272.4 L611.4,268.4 L612.0,264.5 L612.7,260.5 L613.3,256.6 L614.0,252.6 L614.6,248.7 L615.2,244.7 L615.8,240.7 L616.5,236.8 L617.1,232.8 L617.7,228.8 L618.3,224.8 L618.9,220.8 L619.5,216.8 L620.1,212.7 L620.7,208.7 L621.3,204.6 L622.0,200.6 L622.6,196.5 L623.2,192.4 L623.9,188.3 L624.6,184.2 L625.3,180.1 L626.0,176.1 L626.7,172.0 L627.5,168.0 L628.3,164.1 L629.1,160.1 L630.0,156.3 L630.9,152.5 L631.9,148.7 L632.8,145.1 L633.9,141.5 L635.0,138.0 L636.1,134.5 L637.3,130.9 L638.5,126.9 L639.7,122.5 L641.0,117.6 L642.4,112.6 L643.9,108.2 L645.7,105.2 L647.6,104.3 L649.8,105.9 L652.1,109.3 L654.3,113.7 L656.3,118.3 L657.9,122.5 L659.3,126.5 L660.5,130.3 L661.5,133.9 L662.4,137.5 L663.3,141.1 L664.2,144.8 L665.2,148.6 L666.1,152.5 L667.1,156.4 L668.0,160.4 L669.0,164.4 L669.9,168.4 L670.8,172.4 L671.6,176.4 L672.4,180.4 L673.2,184.4 L673.9,188.3 L674.6,192.2 L675.3,196.2 L676.0,200.1 L676.7,204.0 L677.4,207.9 L678.1,211.8 L678.9,215.7 L679.8,219.7 L680.7,223.6 L681.7,227.6 L682.8,231.5 L684.0,235.4 L685.4,239.2 L687.0,242.9 L688.8,246.5 L690.8,249.9 L693.0,253.2 L695.6,256.3 L698.4,259.2 L701.3,262.0 L704.4,264.8 L707.4,267.4 L710.4,270.1 L713.4,272.8 L716.3,275.4 L719.3,278.1 L722.2,280.8 L725.1,283.5 L728.0,286.2 L731.0,289.0 L733.9,291.8 L736.8,294.7 L739.6,297.6 L742.5,300.6 L745.3,303.6 L748.0,306.6 L750.7,309.7 L753.3,312.8 L755.8,315.9 L758.3,319.0 L760.7,322.2 L763.1,325.3 L765.5,328.5 L767.9,331.8 L770.2,335.0 L772.5,338.2 L774.8,341.5 L777.0,344.7 L779.3,348.0 L781.5,351.3 L783.8,354.5 L786.1,357.8 L788.4,361.1 L790.7,364.4 L793.0,367.6 L795.4,370.9 L797.8,374.2 L800.2,377.4 L802.7,380.6 L805.1,383.9 L807.7,387.0 L810.2,390.2 L812.8,393.4 L815.5,396.5 L818.2,399.5 L820.9,402.6 L823.6,405.5 L826.4,408.5 L829.3,411.4 L832.2,414.2 L835.1,417.0 L838.1,419.7 L841.1,422.4 L844.1,425.0 L847.2,427.5 L850.4,429.9 L853.6,432.3 L856.9,434.6 L860.2,436.8 L863.5,438.9 L866.9,440.9 L870.4,442.8 L873.9,444.7 L877.4,446.4 L881.1,448.0 L884.7,449.5 L888.5,450.9 L892.2,452.2 L896.1,453.5 L899.9,454.6 L903.8,455.6 L907.8,456.6 L911.7,457.5 L915.7,458.3 L919.7,459.0 L923.7,459.7 L927.7,460.4 L931.8,461.0 L935.8,461.5 L939.9,462.1 L943.9,462.5 L947.9,463.0 L952.0,463.4 L956.0,463.9 L960.0,464.3 L964.0,464.6 L968.0,465.0 L972.0,465.4 L975.9,465.7 L979.9,466.0 L983.9,466.3 L987.9,466.6 L991.8,466.9 L995.8,467.1 L999.8,467.4 L1003.8,467.7 L1007.8,467.9 L1011.7,468.1 L1015.7,468.4 L1019.7,468.6 L1023.7,468.9 L1027.7,469.1 L1031.7,469.3 L1035.7,469.6 L1039.8,469.8 L1043.8,470.0 L1047.8,470.3 L1051.9,470.5 L1056.0,470.8 L1060.1,471.1 L1060.0,474.0 L1056.0,473.9 L1052.0,473.9 L1047.9,473.9 L1043.9,473.9 L1039.9,474.0 L1035.9,474.1 L1031.9,474.2 L1027.8,474.3 L1023.8,474.5 L1019.8,474.7 L1015.8,474.9 L1011.8,475.1 L1007.8,475.3 L1003.7,475.5 L999.7,475.7 L995.7,476.0 L991.7,476.2 L987.7,476.5 L983.7,476.8 L979.6,477.0 L975.6,477.3 L971.6,477.5 L967.6,477.8 L963.6,478.0 L959.6,478.3 L955.6,478.5 L951.5,478.7 L947.5,479.0 L943.5,479.2 L939.5,479.3 L935.5,479.5 L931.5,479.7 L927.5,479.8 L923.4,479.9 L919.4,480.1 L915.4,480.2 L911.4,480.3 L907.4,480.5 L903.4,480.6 L899.3,480.7 L895.3,480.9 L891.3,481.0 L887.3,481.1 L883.3,481.3 L879.2,481.5 L875.2,481.6 L871.2,481.8 L867.2,482.0 L863.2,482.3 L859.1,482.5 L855.1,482.8 L851.1,483.0 L847.1,483.3 L843.1,483.7 L839.1,484.0 L835.1,484.4 L831.1,484.8 L827.1,485.2 L823.1,485.6 L819.1,486.1 L815.1,486.6 L811.2,487.2 L807.2,487.7 L803.2,488.3 L799.3,488.9 L795.3,489.5 L791.3,490.1 L787.4,490.7 L783.4,491.3 L779.4,491.8 L775.5,492.4 L771.5,492.9 L767.5,493.4 L763.5,493.9 L759.5,494.4 L755.5,494.8 L751.5,495.2 L747.4,495.5 L743.4,495.8 L739.4,496.1 L735.3,496.4 L731.3,496.8 L727.3,497.1 L723.3,497.5 L719.2,497.9 L715.3,498.4 L711.3,499.0 L707.3,499.6 L703.4,500.3 L699.5,501.1 L695.6,502.0 L691.7,503.0 L687.9,504.1 L684.1,505.3 L680.3,506.6 L676.5,507.9 L672.8,509.4 L669.0,510.9 L665.3,512.4 L661.6,514.0 L658.0,515.7 L654.3,517.4 L650.6,519.1 L647.0,520.9 L643.3,522.6 L639.7,524.4 L636.1,526.2 L632.5,528.0 L628.9,529.8 L625.3,531.7 L621.6,533.5 L618.0,535.3 L614.4,537.1 L610.8,538.9 L607.2,540.7 L603.6,542.5 L600.0,544.3 L596.4,546.0 L592.8,547.8 L589.2,549.5 L585.5,551.3 L581.9,553.0 L578.3,554.6 L574.6,556.3 L570.9,557.9 L567.3,559.5 L563.6,561.1 L559.9,562.6 L556.2,564.2 L552.4,565.6 L548.7,567.1 L544.9,568.5 L541.2,569.8 L537.4,571.2 L533.6,572.4 L529.7,573.7 L525.9,574.8 L522.0,576.0 L518.1,577.1 L514.2,578.1 L510.3,579.1 L506.4,580.0 L502.4,580.9 L498.5,581.7 L494.5,582.5 L490.6,583.3 L486.7,584.2 L482.8,585.2 L479.1,586.4 L475.3,587.7 L471.7,589.3 L468.1,591.0 L464.6,592.9 L461.1,594.9 L457.7,597.0 L454.3,599.2 L450.9,601.5 L447.5,603.7 L444.2,606.0 L440.8,608.2 L437.4,610.4 L434.0,612.5 L430.6,614.6 L427.2,616.7 L423.7,618.7 L420.3,620.7 L416.8,622.7 L413.3,624.6 L409.7,626.5 L406.2,628.4 L402.6,630.2 L398.9,632.0 L395.3,633.8 L391.6,635.5 L387.9,637.1 L384.2,638.6 L380.4,640.1 L376.6,641.4 L372.7,642.6 L368.9,643.7 L365.0,644.7 L361.0,645.5 L357.1,646.2 L353.1,646.8 L349.2,647.2 L345.2,647.4 L341.2,647.5 L337.2,647.4 L333.3,647.1 L329.3,646.7 L325.3,646.2 L321.4,645.6 L317.4,644.9 L313.5,644.1 L309.5,643.2 L305.6,642.4 L301.6,641.5 L297.6,640.7 L293.7,639.9 L289.7,639.1 L285.7,638.3 L281.7,637.6 L277.7,637.0 L273.7,636.4 L269.7,635.8 L265.7,635.3 L261.7,634.9 L257.7,634.5 L253.7,634.1 L249.7,633.9 L245.7,633.7 L241.7,633.6 L237.7,633.5 L233.7,633.6 L229.7,633.7 L225.7,633.9 L221.7,634.2 L217.8,634.6 L213.8,635.1 L209.8,635.7 L205.9,636.4 L201.9,637.2 L198.0,638.1" stroke="#5222ff" stroke-width="5.4"/><path d="M200.1,654.9 L203.8,653.3 L207.4,651.6 L211.0,649.8 L214.5,647.8 L218.0,645.9 L221.5,643.8 L224.9,641.7 L228.4,639.6 L231.8,637.5 L235.3,635.4 L238.8,633.3 L242.3,631.3 L245.8,629.4 L249.3,627.5 L252.9,625.7 L256.5,624.0 L260.2,622.4 L263.9,620.8 L267.6,619.3 L271.3,617.8 L275.0,616.4 L278.8,615.1 L282.6,613.7 L286.4,612.4 L290.2,611.1 L294.0,609.9 L297.8,608.6 L301.6,607.4 L305.5,606.2 L309.3,605.0 L313.2,603.8 L317.0,602.6 L320.9,601.5 L324.7,600.4 L328.6,599.3 L332.5,598.3 L336.4,597.3 L340.3,596.4 L344.2,595.4 L348.1,594.5 L352.1,593.7 L356.0,592.9 L360.0,592.2 L363.9,591.5 L367.9,590.9 L371.9,590.3 L375.9,589.8 L379.9,589.3 L383.9,588.9 L387.9,588.4 L391.9,587.8 L395.9,587.2 L399.8,586.4 L403.7,585.5 L407.5,584.5 L411.3,583.2 L415.0,581.8 L418.8,580.4 L422.5,578.9 L426.2,577.4 L430.0,576.0 L433.8,574.6 L437.6,573.2 L441.4,571.9 L445.2,570.5 L449.0,569.2 L452.8,567.8 L456.6,566.3 L460.3,564.8 L464.0,563.3 L467.6,561.6 L471.2,559.9 L474.8,558.1 L478.2,556.1 L481.7,554.0 L485.0,551.8 L488.4,549.6 L491.7,547.3 L495.0,545.0 L498.4,542.7 L501.7,540.5 L505.2,538.3 L508.6,536.2 L512.1,534.0 L515.5,531.8 L518.8,529.6 L522.0,527.3 L525.1,524.8 L528.1,522.1 L530.8,519.3 L533.4,516.2 L535.9,513.1 L538.2,509.8 L540.5,506.4 L542.7,503.0 L544.8,499.5 L547.0,496.1 L549.1,492.6 L551.2,489.1 L553.3,485.6 L555.3,482.1 L557.2,478.6 L559.1,475.0 L560.8,471.4 L562.5,467.8 L564.0,464.1 L565.4,460.4 L566.7,456.6 L567.9,452.8 L569.0,449.0 L570.0,445.1 L571.0,441.2 L571.9,437.2 L572.8,433.3 L573.7,429.4 L574.5,425.4 L575.4,421.5 L576.3,417.6 L577.2,413.6 L578.1,409.7 L579.0,405.8 L579.9,401.9 L580.7,397.9 L581.6,394.0 L582.5,390.1 L583.4,386.2 L584.3,382.3 L585.2,378.3 L586.1,374.4 L587.0,370.5 L587.8,366.6 L588.7,362.6 L589.6,358.7 L590.4,354.8 L591.3,350.9 L592.2,347.0 L593.0,343.0 L593.8,339.1 L594.7,335.2 L595.5,331.2 L596.3,327.3 L597.1,323.4 L597.9,319.4 L598.6,315.5 L599.4,311.6 L600.2,307.6 L600.9,303.7 L601.7,299.7 L602.4,295.8 L603.1,291.8 L603.8,287.9 L604.5,283.9 L605.3,280.0 L606.0,276.0 L606.7,272.1 L607.4,268.1 L608.1,264.1 L608.8,260.2 L609.5,256.2 L610.2,252.3 L610.9,248.3 L611.7,244.4 L612.4,240.4 L613.1,236.5 L613.9,232.5 L614.6,228.6 L615.4,224.6 L616.1,220.7 L616.9,216.7 L617.7,212.8 L618.5,208.9 L619.3,204.9 L620.2,201.0 L621.0,197.1 L621.8,193.1 L622.7,189.2 L623.5,185.3 L624.4,181.4 L625.3,177.4 L626.1,173.5 L627.0,169.6 L627.9,165.6 L628.7,161.7 L629.6,157.8 L630.5,153.9 L631.4,149.9 L632.3,146.0 L633.2,142.1 L634.1,138.2 L635.0,134.3 L636.0,130.4 L637.0,126.6 L638.1,122.8 L639.2,119.0 L640.3,115.0 L641.6,110.6 L643.0,105.8 L644.5,101.0 L646.2,96.8 L648.0,93.8 L650.1,92.3 L652.5,93.0 L654.9,95.5 L657.3,99.2 L659.5,103.6 L661.3,108.1 L662.7,112.2 L663.8,116.0 L664.9,119.7 L666.0,123.5 L667.2,127.3 L668.4,131.1 L669.5,135.1 L670.4,139.0 L671.4,143.0 L672.2,147.0 L673.1,150.9 L674.0,154.8 L675.0,158.6 L676.0,162.4 L677.0,166.1 L678.0,169.9 L679.0,173.7 L679.9,177.6 L680.8,181.5 L681.7,185.4 L682.5,189.4 L683.4,193.4 L684.3,197.4 L685.3,201.4 L686.3,205.4 L687.4,209.3 L688.5,213.2 L689.8,217.1 L691.2,220.9 L692.6,224.6 L694.3,228.2 L696.0,231.8 L698.0,235.3 L700.1,238.6 L702.3,241.9 L704.8,245.0 L707.5,247.9 L710.4,250.8 L713.4,253.4 L716.5,256.0 L719.8,258.4 L723.1,260.7 L726.5,262.8 L730.0,264.8 L733.5,266.8 L737.0,268.7 L740.5,270.7 L744.0,272.6 L747.4,274.6 L750.8,276.7 L754.2,279.0 L757.4,281.3 L760.6,283.8 L763.7,286.3 L766.7,289.0 L769.7,291.7 L772.7,294.5 L775.6,297.4 L778.4,300.3 L781.2,303.2 L784.0,306.1 L786.8,309.0 L789.6,311.8 L792.4,314.7 L795.3,317.4 L798.2,320.1 L801.3,322.7 L804.6,325.1 L807.9,327.4 L811.4,329.4 L815.0,331.2 L818.8,332.6 L822.6,333.6 L826.6,334.4 L830.6,335.0 L834.6,335.5 L838.7,336.1 L842.7,336.7 L846.6,337.5 L850.5,338.5 L854.3,339.7 L858.1,341.0 L861.8,342.5 L865.4,344.2 L869.0,345.9 L872.6,347.8 L876.1,349.8 L879.5,351.8 L882.9,353.9 L886.3,356.1 L889.6,358.3 L893.0,360.6 L896.3,362.9 L899.5,365.3 L902.8,367.6 L906.1,370.0 L909.3,372.3 L912.6,374.7 L915.9,377.0 L919.2,379.4 L922.5,381.6 L925.8,383.9 L929.2,386.1 L932.6,388.2 L936.0,390.3 L939.5,392.4 L942.9,394.4 L946.4,396.4 L949.9,398.3 L953.5,400.2 L957.1,402.0 L960.6,403.8 L964.3,405.5 L967.9,407.2 L971.5,408.9 L975.2,410.5 L978.9,412.1 L982.6,413.6 L986.4,415.1 L990.1,416.5 L993.9,417.9 L997.7,419.3 L1001.5,420.6 L1005.3,421.8 L1009.1,423.1 L1012.9,424.3 L1016.8,425.4 L1020.7,426.5 L1024.6,427.5 L1028.5,428.5 L1032.4,429.5 L1036.3,430.4 L1040.2,431.2 L1044.1,432.0 L1048.1,432.7 L1052.0,433.4 L1056.0,434.0 L1060.0,434.5 L1059.9,436.8 L1055.9,436.5 L1051.9,436.8 L1048.1,437.6 L1044.3,438.7 L1040.6,440.2 L1036.9,441.8 L1033.2,443.4 L1029.5,445.0 L1025.7,446.4 L1021.9,447.6 L1018.0,448.6 L1014.1,449.5 L1010.1,450.2 L1006.1,450.9 L1002.1,451.5 L998.1,452.1 L994.1,452.7 L990.1,453.3 L986.2,453.9 L982.2,454.6 L978.3,455.2 L974.4,455.9 L970.4,456.6 L966.5,457.3 L962.6,457.9 L958.6,458.5 L954.7,459.2 L950.7,459.7 L946.7,460.3 L942.8,460.8 L938.7,461.3 L934.7,461.7 L930.7,462.1 L926.6,462.5 L922.6,463.0 L918.5,463.4 L914.5,463.8 L910.4,464.3 L906.4,464.8 L902.4,465.3 L898.4,465.9 L894.4,466.6 L890.5,467.3 L886.6,468.1 L882.7,469.0 L878.8,470.1 L875.0,471.2 L871.2,472.4 L867.5,473.7 L863.8,475.2 L860.1,476.7 L856.5,478.2 L852.8,479.9 L849.2,481.6 L845.6,483.3 L842.0,485.0 L838.4,486.8 L834.7,488.6 L831.1,490.4 L827.5,492.1 L823.9,493.9 L820.2,495.6 L816.5,497.3 L812.8,499.0 L809.1,500.6 L805.4,502.1 L801.6,503.6 L797.8,505.0 L794.0,506.3 L790.2,507.5 L786.3,508.7 L782.5,509.7 L778.6,510.7 L774.7,511.5 L770.7,512.2 L766.8,512.8 L762.8,513.3 L758.8,513.6 L754.8,513.8 L750.8,513.8 L746.8,513.7 L742.7,513.6 L738.7,513.4 L734.6,513.1 L730.6,512.8 L726.5,512.5 L722.4,512.3 L718.4,512.1 L714.4,512.0 L710.4,511.9 L706.3,512.0 L702.4,512.2 L698.4,512.6 L694.5,513.2 L690.6,514.0 L686.7,514.9 L682.8,515.9 L679.0,517.0 L675.1,518.1 L671.3,519.3 L667.4,520.6 L663.6,521.8 L659.7,523.1 L655.9,524.3 L652.1,525.6 L648.3,527.0 L644.5,528.3 L640.7,529.7 L636.9,531.2 L633.2,532.7 L629.5,534.2 L625.8,535.7 L622.1,537.3 L618.5,539.0 L614.8,540.6 L611.2,542.3 L607.5,544.0 L603.9,545.7 L600.3,547.4 L596.7,549.2 L593.1,551.0 L589.5,552.8 L585.9,554.5 L582.3,556.3 L578.7,558.1 L575.0,559.9 L571.4,561.7 L567.8,563.5 L564.2,565.3 L560.6,567.1 L556.9,568.8 L553.3,570.5 L549.6,572.2 L545.9,573.8 L542.2,575.4 L538.5,576.9 L534.8,578.3 L531.0,579.7 L527.2,581.0 L523.4,582.2 L519.6,583.3 L515.7,584.3 L511.8,585.2 L507.9,586.0 L504.0,586.7 L500.0,587.2 L496.0,587.6 L492.0,588.0 L487.9,588.3 L483.9,588.5 L479.8,588.8 L475.7,589.0 L471.7,589.3 L467.7,589.7 L463.7,590.1 L459.7,590.7 L455.8,591.4 L451.9,592.2 L448.0,593.2 L444.2,594.3 L440.4,595.4 L436.7,596.7 L432.9,598.1 L429.2,599.6 L425.6,601.2 L421.9,602.8 L418.3,604.6 L414.7,606.4 L411.1,608.2 L407.6,610.2 L404.1,612.2 L400.6,614.2 L397.1,616.3 L393.6,618.4 L390.1,620.6 L386.7,622.8 L383.3,625.0 L379.8,627.2 L376.4,629.4 L373.0,631.6 L369.6,633.8 L366.1,635.8 L362.6,637.9 L359.1,639.8 L355.6,641.6 L352.0,643.3 L348.4,644.9 L344.7,646.3 L341.0,647.5 L337.2,648.6 L333.3,649.5 L329.4,650.2 L325.4,650.7 L321.4,651.1 L317.4,651.3 L313.3,651.3 L309.2,651.3 L305.1,651.1 L301.1,650.8 L297.0,650.4 L293.0,650.0 L289.0,649.4 L285.1,648.9 L281.1,648.3 L277.1,647.7 L273.2,647.0 L269.2,646.4 L265.3,645.9 L261.3,645.4 L257.3,644.9 L253.3,644.5 L249.3,644.3 L245.3,644.1 L241.3,644.1 L237.2,644.2 L233.2,644.4 L229.2,644.7 L225.1,645.2 L221.1,645.8 L217.1,646.6 L213.2,647.5 L209.3,648.5 L205.5,649.7 L201.7,651.0 L198.0,652.5" stroke="#935200" stroke-width="5.4"/></g><g fill="#000"><rect x="198.05" y="23.20" width="861.50" height="3.60"/><rect x="198.05" y="718.00" width="861.50" height="3.60"/><rect x="198.05" y="23.20" width="3.10" height="698.40"/><rect x="1056.45" y="23.20" width="3.10" height="698.40"/><rect x="185.30" y="23.30" width="14.30" height="3.4"/><rect x="192.20" y="81.18" width="7.40" height="3.4"/><rect x="185.30" y="139.07" width="14.30" height="3.4"/><rect x="192.20" y="196.95" width="7.40" height="3.4"/><rect x="185.30" y="254.83" width="14.30" height="3.4"/><rect x="192.20" y="312.72" width="7.40" height="3.4"/><rect x="185.30" y="370.60" width="14.30" height="3.4"/><rect x="192.20" y="428.48" width="7.40" height="3.4"/><rect x="185.30" y="486.37" width="14.30" height="3.4"/><rect x="192.20" y="544.25" width="7.40" height="3.4"/><rect x="185.30" y="602.13" width="14.30" height="3.4"/><rect x="192.20" y="660.02" width="7.40" height="3.4"/><rect x="185.30" y="717.90" width="14.30" height="3.4"/><rect x="197.90" y="719.8" width="3.4" height="13.70"/><rect x="283.74" y="719.8" width="3.4" height="7.10"/><rect x="369.58" y="719.8" width="3.4" height="13.70"/><rect x="455.42" y="719.8" width="3.4" height="7.10"/><rect x="541.26" y="719.8" width="3.4" height="13.70"/><rect x="627.10" y="719.8" width="3.4" height="7.10"/><rect x="712.94" y="719.8" width="3.4" height="13.70"/><rect x="798.78" y="719.8" width="3.4" height="7.10"/><rect x="884.62" y="719.8" width="3.4" height="13.70"/><rect x="970.46" y="719.8" width="3.4" height="7.10"/><rect x="1056.30" y="719.8" width="3.4" height="13.70"/></g><g font-family="Liberation Sans, sans-serif" font-size="60" fill="#000" stroke="#000" stroke-width="0.5" text-anchor="end"><text transform="translate(177,43.4) scale(1,1.045)">80.0</text><text transform="translate(177,159.2) scale(1,1.045)">60.0</text><text transform="translate(177,274.9) scale(1,1.045)">40.0</text><text transform="translate(177,390.7) scale(1,1.045)">20.0</text><text transform="translate(177,506.5) scale(1,1.045)">0.0</text><text transform="translate(177,622.2) scale(1,1.045)">-20.0</text><text transform="translate(177,738.0) scale(1,1.045)">-40.0</text></g><g font-family="Liberation Sans, sans-serif" font-size="60" fill="#000" stroke="#000" stroke-width="0.5" text-anchor="middle"><text transform="translate(199.6,790) scale(0.99,1.045)">-0.4</text><text transform="translate(371.3,790) scale(0.99,1.045)">-0.2</text><text transform="translate(543.0,790) scale(0.99,1.045)">0.0</text><text transform="translate(714.6,790) scale(0.99,1.045)">0.2</text><text transform="translate(886.3,790) scale(0.99,1.045)">0.4</text><text transform="translate(1058.0,790) scale(0.99,1.045)">0.6</text></g><text transform="translate(613,852.5) scale(1.005,1.045)" stroke="#000" stroke-width="0.5" font-family="Liberation Sans, sans-serif" font-size="59" text-anchor="middle">Potential (V)</text><text transform="translate(43,371.5) rotate(-90) scale(1.01,1)" stroke="#000" stroke-width="0.5" font-family="Liberation Sans, sans-serif" font-size="59" text-anchor="middle">Current (μA)</text><g font-family="Liberation Sans, sans-serif" font-size="29" fill="#000"><path d="M224.5,64.6 H290.5" stroke="#0f1112" stroke-width="5.4" stroke-linecap="round"/><text transform="translate(298.8,75.1) scale(1.01,1.1)" stroke="#000" stroke-width="0.6">0.05 mM</text><path d="M224.5,101.0 H290.5" stroke="#ff000a" stroke-width="5.4" stroke-linecap="round"/><text transform="translate(298.8,111.5) scale(1.01,1.1)" stroke="#000" stroke-width="0.6">0.1 mM</text><path d="M224.5,137.4 H290.5" stroke="#0a28ff" stroke-width="5.4" stroke-linecap="round"/><text transform="translate(298.8,147.9) scale(1.01,1.1)" stroke="#000" stroke-width="0.6">0.2 mM</text><path d="M224.5,173.8 H290.5" stroke="#0de00d" stroke-width="5.4" stroke-linecap="round"/><text transform="translate(298.8,184.3) scale(1.01,1.1)" stroke="#000" stroke-width="0.6">0.4 mM</text><path d="M224.5,210.2 H290.5" stroke="#5222ff" stroke-width="5.4" stroke-linecap="round"/><text transform="translate(298.8,220.7) scale(1.01,1.1)" stroke="#000" stroke-width="0.6">0.6 mM</text><path d="M224.5,246.6 H290.5" stroke="#935200" stroke-width="5.4" stroke-linecap="round"/><text transform="translate(298.8,257.1) scale(1.01,1.1)" stroke="#000" stroke-width="0.6">0.8 mM</text></g></svg></body></html>
